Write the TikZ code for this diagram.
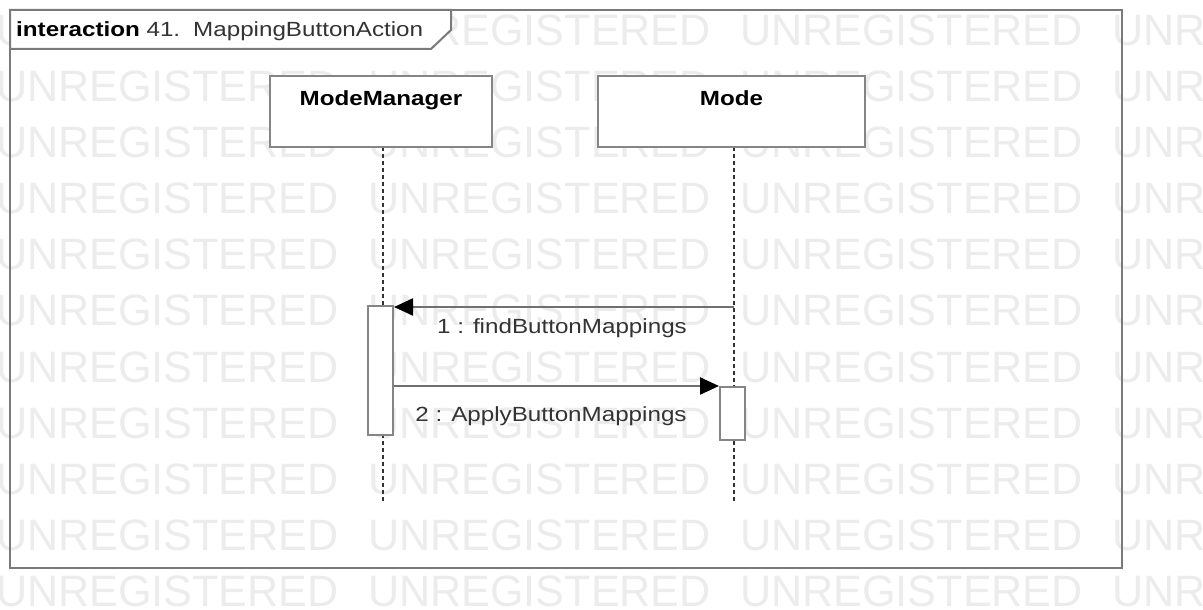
\documentclass[tikz,border=0pt]{standalone}
\usepackage{fontspec}
\setmainfont{Liberation Sans}
\newfontfamily\wmfont[FakeStretch=0.98]{Liberation Sans}
\newfontfamily\dfont[FakeStretch=1.18]{Liberation Sans}
\usetikzlibrary{arrows.meta}
\definecolor{wmgray}{HTML}{ECECEC}
\definecolor{framegray}{HTML}{7A7A7A}
\definecolor{boxgray}{HTML}{858585}
\definecolor{msggray}{HTML}{707070}
\definecolor{txtgray}{HTML}{333333}
\tikzset{
  wm/.style={inner sep=0pt, anchor=base west, text=wmgray, font=\wmfont\fontsize{44}{50}\selectfont},
  frameline/.style={draw=framegray, line width=2.5pt},
  tabline/.style={draw=framegray, line width=2pt, fill=white},
  objbox/.style={draw=boxgray, line width=2pt, fill=white, inner sep=0pt},
  actbox/.style={draw=boxgray, line width=2pt, fill=white, inner sep=0pt, minimum width=25pt},
  objtext/.style={inner sep=0pt, anchor=base, font=\dfont\bfseries\fontsize{20.5}{24}\selectfont},
  lbl/.style={inner sep=0pt, anchor=base, text=txtgray, font=\dfont\fontsize{20.5}{24}\selectfont},
  ttl/.style={inner sep=0pt, anchor=base west, font=\dfont\fontsize{20.5}{24}\selectfont},
  lifeline/.style={draw=black!80, line width=1.3pt, dash pattern=on 4pt off 3pt},
  msg/.style={draw=msggray, line width=2.2pt, -{Triangle[length=19pt,width=17pt,fill=black,color=black]}}
}
\begin{document}
\begin{tikzpicture}[x=1pt,y=-1pt]
\useasboundingbox (0,0) rectangle (1203,610);
% watermark
\foreach \k in {0,...,10}{
  \foreach \j in {0,...,3}{
    \node[wm] (w\k-\j) at ({-4+372*\j},{45.1+56.15*\k}) {UNREGISTERED};
  }
}
% frame
\draw[frameline] (10,10) rectangle (1122,568);
\draw[tabline] (10,10) -- (451,10) -- (451,30) -- (431,49) -- (10,49) -- cycle;
\node[ttl] (t1) at (16,37) {\textbf{interaction} \textcolor{txtgray}{41.}};
\node[ttl, text=txtgray] (t2) at (193,37) {MappingButtonAction};
% lifelines
\coordinate (mmtop) at (383,147);
\coordinate (mmend) at (383,503);
\coordinate (mdtop) at (734,147);
\coordinate (mdend) at (734,503);
\draw[lifeline] (mmtop) -- (mmend);
\draw[lifeline] (mdtop) -- (mdend);
% objects
\node[objbox, minimum width=222pt, minimum height=71pt] (mm) at (381,111.5) {};
\node[objbox, minimum width=267pt, minimum height=71pt] (md) at (731.5,111.5) {};
\node[objtext] (mmt) at (381,106) {ModeManager};
\node[objtext] (mdt) at (731.5,106) {Mode};
% activations
\node[actbox, minimum height=129pt] (a1) at (380.5,370.5) {};
\node[actbox, minimum height=53pt] (a2) at (732.5,413.5) {};
% messages
\coordinate (m1s) at (734,307);
\draw[msg] (m1s) -- (m1s -| a1.east);
\node[lbl] (l1) at (562,333) {1 : findButtonMappings};
\draw[msg] (a1.east |- a2.north) -- (a2.north west);
\node[lbl] (l2) at (551,421.5) {2 : ApplyButtonMappings};
\end{tikzpicture}
\end{document}
